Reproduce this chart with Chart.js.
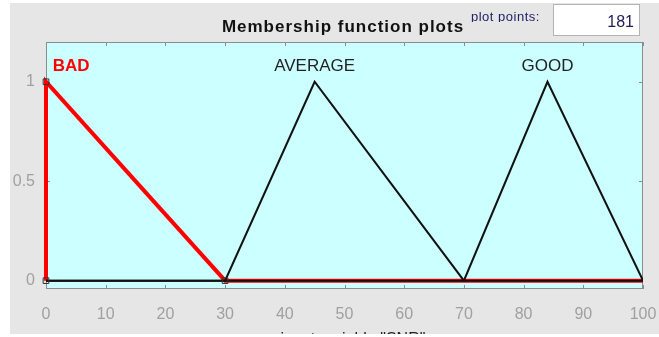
<!DOCTYPE html>
<html lang="en">
<head>
    <meta charset="UTF-8">
    <title>Membership function plots</title>
    <script src="https://cdn.jsdelivr.net/npm/chart.js"></script>
    <style>
        html, body { margin: 0; padding: 0; background: #ffffff; }
        #mfChart { display: block; }
    </style>
</head>
<body>
    <canvas id="mfChart" width="659" height="337"></canvas>
    <script>
        // membership functions of input variable "SNR"
        const mfNames = ['BAD', 'AVERAGE', 'GOOD'];
        const badX = [0, 0, 30, 100];
        const badY = [0, 1, 0, 0];
        const avgX = [0, 30, 45, 70, 100];
        const avgY = [0, 0, 1, 0, 0];
        const goodX = [0, 70, 84, 100];
        const goodY = [0, 0, 1, 0];

        // vertices of the selected MF (BAD)
        const markerX = [0, 0, 30];
        const markerY = [1, 0, 0];

        // where the MF names sit
        const labelX = [4.2, 45, 84];
        const labelY = [1.085, 1.085, 1.085];

        const xTicks = [0, 10, 20, 30, 40, 50, 60, 70, 80, 90, 100];
        const yTicks = [0, 0.5, 1];
        const yTickLabels = ['0', '0.5', '1'];
        const plotPoints = '181';
        const titleText = 'Membership function plots';
        const xLabelText = 'input variable "SNR"';

        const toPts = (xs, ys) => xs.map((x, i) => ({ x: x, y: ys[i] }));

        const FONT = '"Liberation Sans", Arial, sans-serif';

        // panel, plot box, ticks and texts (MATLAB fuzzy GUI look)
        const guiPlugin = {
            id: 'gui',
            beforeDraw(chart) {
                const ctx = chart.ctx;
                const a = chart.chartArea;
                ctx.save();
                ctx.fillStyle = '#ffffff';
                ctx.fillRect(0, 0, chart.width, chart.height);
                ctx.fillStyle = '#e6e6e6';
                ctx.fillRect(10, 3, chart.width - 10, 331);
                ctx.fillStyle = '#ccffff';
                ctx.fillRect(a.left, a.top, a.right - a.left, a.bottom - a.top);

                // title
                ctx.fillStyle = '#111111';
                ctx.font = 'bold 17px ' + FONT;
                ctx.letterSpacing = '1px';
                ctx.textAlign = 'center';
                ctx.textBaseline = 'alphabetic';
                ctx.fillText(titleText, 343, 32);
                ctx.letterSpacing = '0px';

                // "plot points:" (descenders cut off)
                ctx.save();
                ctx.beginPath();
                ctx.rect(460, 0, 90, 22);
                ctx.clip();
                ctx.fillStyle = '#22226a';
                ctx.font = '13px ' + FONT;
                ctx.letterSpacing = '0.5px';
                ctx.textAlign = 'left';
                ctx.fillText('plot points:', 471, 21);
                ctx.restore();

                // edit box
                ctx.fillStyle = '#ffffff';
                ctx.fillRect(553, 4, 87, 32);
                ctx.strokeStyle = '#b4b4b4';
                ctx.lineWidth = 1;
                ctx.strokeRect(553.5, 4.5, 86, 31);
                ctx.fillStyle = '#1e1e50';
                ctx.font = '16px ' + FONT;
                ctx.textAlign = 'right';
                ctx.fillText(plotPoints, 634, 27);

                // x label, mostly hidden below the panel
                ctx.save();
                ctx.beginPath();
                ctx.rect(0, 0, chart.width, 334);
                ctx.clip();
                ctx.fillStyle = '#222222';
                ctx.font = '16px ' + FONT;
                ctx.textAlign = 'center';
                ctx.fillText(xLabelText, 353, 344);
                ctx.restore();
                ctx.restore();
            },
            beforeDatasetsDraw(chart) {
                const ctx = chart.ctx;
                const a = chart.chartArea;
                const xs = chart.scales.x;
                const ys = chart.scales.y;
                ctx.save();
                ctx.strokeStyle = '#8c8c8c';
                ctx.lineWidth = 1;
                ctx.strokeRect(a.left + 0.5, a.top + 0.5, a.right - a.left - 1, a.bottom - a.top - 1);
                ctx.beginPath();
                xTicks.forEach(v => {
                    const px = Math.round(xs.getPixelForValue(v)) + 0.5;
                    ctx.moveTo(px, a.top);
                    ctx.lineTo(px, a.top + 4);
                    ctx.moveTo(px, a.bottom);
                    ctx.lineTo(px, a.bottom - 4);
                });
                yTicks.forEach(v => {
                    const py = Math.round(ys.getPixelForValue(v)) + 0.5;
                    ctx.moveTo(a.left, py);
                    ctx.lineTo(a.left + 4, py);
                    ctx.moveTo(a.right, py);
                    ctx.lineTo(a.right - 4, py);
                });
                ctx.stroke();
                ctx.restore();
            },
            afterDatasetsDraw(chart) {
                const ctx = chart.ctx;
                const xs = chart.scales.x;
                const ys = chart.scales.y;
                ctx.save();
                ctx.textAlign = 'center';
                ctx.textBaseline = 'alphabetic';
                mfNames.forEach((name, i) => {
                    const selected = i === 0;
                    ctx.fillStyle = selected ? '#ff0000' : '#222222';
                    ctx.font = (selected ? 'bold ' : '') + '17px ' + FONT;
                    ctx.fillText(name, xs.getPixelForValue(labelX[i]), ys.getPixelForValue(labelY[i]) + 6);
                });
                ctx.restore();
            }
        };

        new Chart(document.getElementById('mfChart'), {
            type: 'line',
            data: {
                datasets: [
                    {
                        label: 'vertices',
                        data: toPts(markerX, markerY),
                        showLine: false,
                        clip: false,
                        pointStyle: 'rect',
                        pointRadius: 4,
                        pointBorderColor: '#333333',
                        pointBackgroundColor: 'rgba(0,0,0,0)',
                        pointBorderWidth: 1
                    },
                    {
                        label: 'AVERAGE',
                        data: toPts(avgX, avgY),
                        borderColor: '#111111',
                        borderWidth: 2,
                        pointRadius: 0,
                        tension: 0
                    },
                    {
                        label: 'GOOD',
                        data: toPts(goodX, goodY),
                        borderColor: '#111111',
                        borderWidth: 2,
                        pointRadius: 0,
                        tension: 0
                    },
                    {
                        label: 'BAD',
                        data: toPts(badX, badY),
                        clip: { left: 3, top: 0, right: 0, bottom: 3 },
                        borderColor: '#ff0000',
                        borderWidth: 4,
                        pointRadius: 0,
                        tension: 0
                    }
                ]
            },
            options: {
                responsive: false,
                animation: false,
                devicePixelRatio: 1,
                layout: { padding: { left: 10, top: 42, right: 16, bottom: 0 } },
                plugins: {
                    legend: { display: false },
                    tooltip: { enabled: false }
                },
                scales: {
                    x: {
                        type: 'linear',
                        min: 0,
                        max: 100,
                        grid: { display: false, drawTicks: false },
                        border: { display: false },
                        afterBuildTicks: s => { s.ticks = xTicks.map(v => ({ value: v })); },
                        afterFit: s => { s.height = 48; s.paddingLeft = 0; s.paddingRight = 0; },
                        ticks: {
                            color: '#a0a0a0',
                            font: { family: FONT, size: 16 },
                            padding: 16,
                            maxRotation: 0,
                            autoSkip: false
                        }
                    },
                    y: {
                        type: 'linear',
                        min: -0.042,
                        max: 1.2,
                        grid: { display: false, drawTicks: false },
                        border: { display: false },
                        afterBuildTicks: s => { s.ticks = yTicks.map(v => ({ value: v })); },
                        afterFit: s => { s.width = 36; s.paddingTop = 0; s.paddingBottom = 0; },
                        ticks: {
                            color: '#a0a0a0',
                            font: { family: FONT, size: 16 },
                            padding: 11,
                            callback: (v, i) => yTickLabels[i]
                        }
                    }
                }
            },
            plugins: [guiPlugin]
        });
    </script>
</body>
</html>
